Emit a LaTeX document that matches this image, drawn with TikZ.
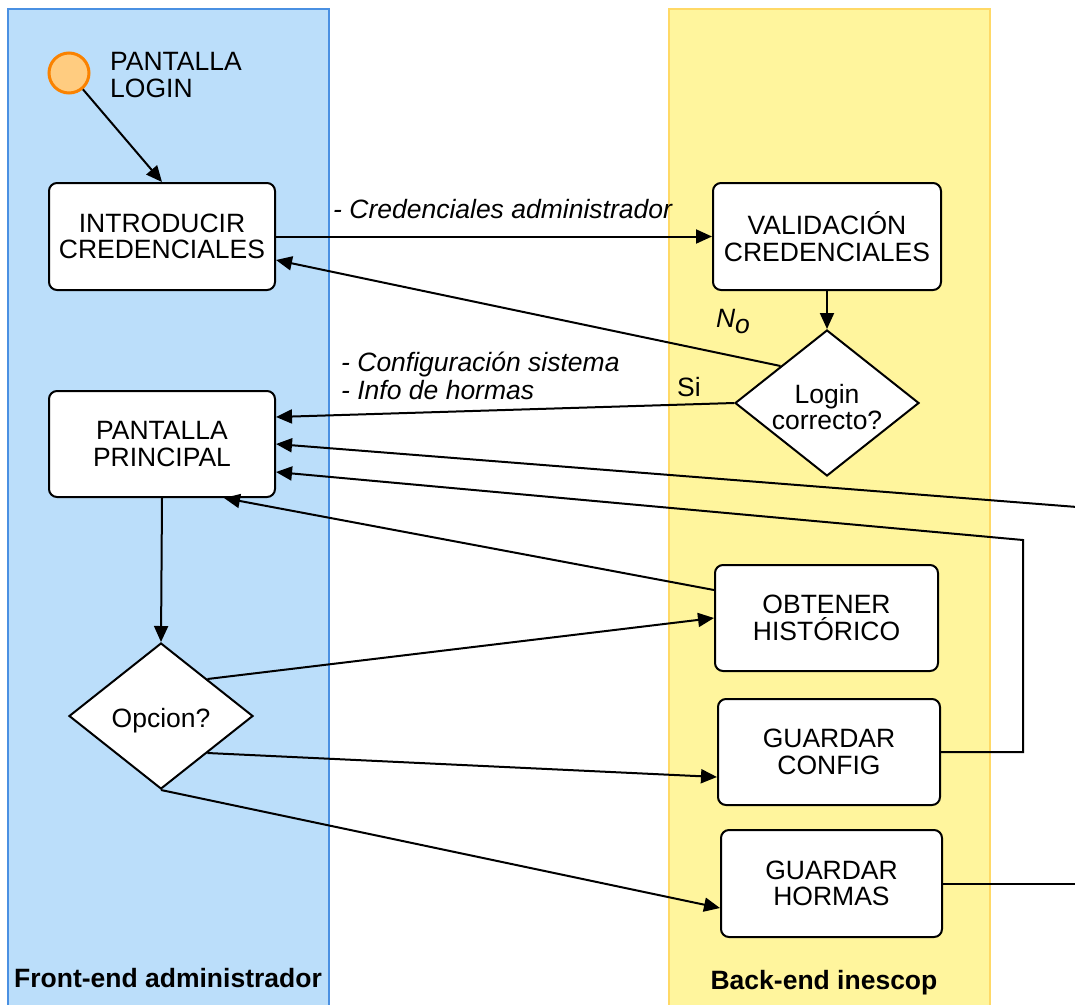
\documentclass[tikz,border=0pt]{standalone}
\usepackage{fontspec}
\setmainfont{Liberation Sans}
\usetikzlibrary{shapes.geometric,arrows.meta,calc}

\definecolor{laneblue}{RGB}{187,222,250}
\definecolor{laneblueline}{RGB}{74,144,226}
\definecolor{laneyellow}{RGB}{255,245,157}
\definecolor{laneyellowline}{RGB}{255,217,102}
\definecolor{startfill}{RGB}{255,204,128}
\definecolor{startline}{RGB}{250,130,0}

\begin{document}
\begin{tikzpicture}[x=1pt,y=-1pt,
  txt/.style={font=\fontsize{26.5}{26.5}\selectfont},
  lbl/.style={font=\fontsize{26.5}{28}\selectfont\itshape, inner sep=0pt},
  box/.style={draw=black, fill=white, rounded corners=8pt, line width=2pt,
    align=center, inner sep=0pt, txt},
  decision/.style={diamond, draw=black, fill=white, line width=2pt,
    inner sep=0pt, minimum width=184pt, minimum height=146pt},
  dectext/.style={txt, align=center, inner sep=0pt},
  flow/.style={draw=black, line width=2pt, -{Triangle[length=16pt,width=14pt]}},
  plain/.style={draw=black, line width=2pt},
  lane/.style={line width=2pt},
  lanetitle/.style={font=\fontsize{26.5}{26.5}\selectfont\bfseries, inner sep=0pt}
]
\useasboundingbox (0,0) rectangle (1075,1004);
\clip (0,0) rectangle (1075,1004);

% swimlanes
\fill[white] (0,0) rectangle (1075,1004);
\draw[lane, fill=laneblue, draw=laneblueline] (8,9) rectangle (329,1012);
\draw[lane, fill=laneyellow, draw=laneyellowline] (669,9) rectangle (990,1012);
\node[lanetitle] (frontlbl) at (168,978) {Front-end administrador};
\node[lanetitle] (backlbl) at (824,983) {Back-end inescop};

% start event
\node[circle, draw=startline, fill=startfill, line width=3pt, minimum size=40pt, inner sep=0pt] (start) at (69,73) {};
\node[txt, align=left, anchor=west, inner sep=0pt] (startlbl) at (110,75) {PANTALLA\\LOGIN};

% activities
\node[box, minimum width=226pt, minimum height=107pt] (intro) at (162,236.5) {INTRODUCIR\\CREDENCIALES};
\node[box, minimum width=228pt, minimum height=107pt] (valid) at (827,236.5) {VALIDACIÓN\\CREDENCIALES};
\node[decision] (login) at (827,403) {};
\node[dectext] (logintxt) at ([yshift=-4pt]login.center) {Login\\correcto?};
\node[box, minimum width=226pt, minimum height=106pt] (main) at (162,444) {PANTALLA\\PRINCIPAL};
\node[decision] (opc) at (161,716) {};
\node[dectext] (opctxt) at ([yshift=-5pt]opc.center) {Opcion?};
\node[box, minimum width=223pt, minimum height=106pt] (hist) at (826.5,618) {OBTENER\\HISTÓRICO};
\node[box, minimum width=222pt, minimum height=106pt] (gconf) at (829,752) {GUARDAR\\CONFIG};
\node[box, minimum width=221pt, minimum height=107pt] (ghorm) at (831.5,883.5) {GUARDAR\\HORMAS};

% free ends leaving on the right
\coordinate (outA) at (1077,507);
\coordinate (outB) at (1077,883.5);
\coordinate (bend) at (1023,540);

% connectors
\draw[flow] (start) -- (intro.north);
\draw[flow] (intro.east) -- (valid.west);
\draw[flow] (valid.south) -- (login.north);
\draw[flow] ($(login.north)!0.5!(login.west)$) -- ([yshift=-23.5pt]intro.east);
\draw[flow] (login.west) -- ([yshift=27pt]main.east);
\draw[flow] (outA) -- (main.east);
\draw[flow] (gconf.east) -- (gconf.east -| bend) -- (bend) -- ([yshift=-28pt]main.east);
\draw[flow] ([yshift=28pt]hist.west) -- ([xshift=62pt]main.south);
\draw[flow] (main.south) -- (opc.north);
\draw[flow] ($(opc.north)!0.5!(opc.east)$) -- (hist.west);
\draw[flow] ($(opc.east)!0.5!(opc.south)$) -- ([yshift=-25pt]gconf.west);
\draw[flow] (opc.south) -- ([yshift=-24.5pt]ghorm.west);
\draw[plain] (ghorm.east) -- (outB);

% connector labels
\node[lbl, anchor=west] (credlbl) at (333,209) {- Credenciales administrador};
\node[lbl, anchor=west, align=left] (infolbl) at (341,376) {- Configuración sistema\\- Info de hormas};
\node[lbl] (nolbl) at (733,322) {N\raisebox{-6pt}{o}};
\node[txt, inner sep=0pt] (silbl) at (689,387) {Si};
\end{tikzpicture}
\end{document}
